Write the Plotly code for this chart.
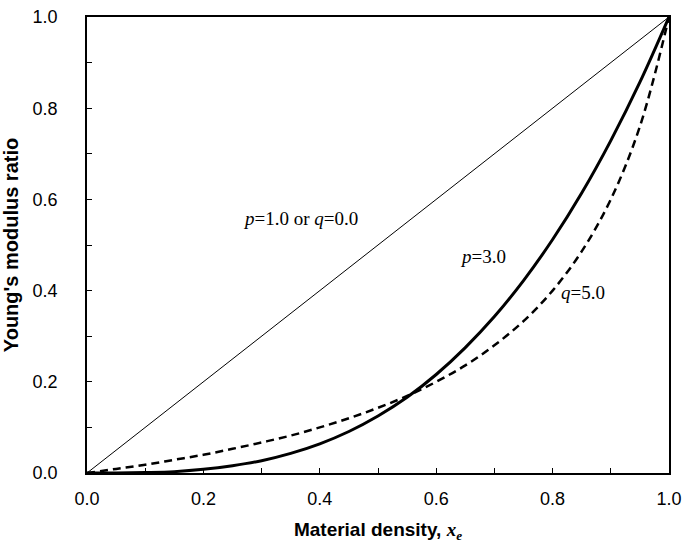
import plotly.graph_objects as go

# density values read along the x axis
density = [0.0, 0.05, 0.1, 0.15, 0.2, 0.25, 0.3, 0.35, 0.4, 0.45, 0.5,
           0.55, 0.6, 0.65, 0.7, 0.75, 0.8, 0.85, 0.9, 0.95, 1.0]

# p=1.0 or q=0.0 (straight line)
linear_ratio = [0.0, 0.05, 0.1, 0.15, 0.2, 0.25, 0.3, 0.35, 0.4, 0.45, 0.5,
                0.55, 0.6, 0.65, 0.7, 0.75, 0.8, 0.85, 0.9, 0.95, 1.0]

# p=3.0 (solid thick)
simp_ratio = [0.0, 0.0, 0.001, 0.003, 0.008, 0.016, 0.027, 0.043, 0.064, 0.091, 0.125,
              0.166, 0.216, 0.275, 0.343, 0.422, 0.512, 0.614, 0.729, 0.857, 1.0]

# q=5.0 (dashed)
ramp_ratio = [0.0, 0.009, 0.018, 0.029, 0.04, 0.053, 0.067, 0.082, 0.1, 0.12, 0.143,
              0.169, 0.2, 0.236, 0.28, 0.333, 0.4, 0.486, 0.6, 0.76, 1.0]

tick_vals = [0.0, 0.2, 0.4, 0.6, 0.8, 1.0]
tick_text = ["0.0", "0.2", "0.4", "0.6", "0.8", "1.0"]

fig = go.Figure()

fig.add_trace(go.Scatter(x=density, y=linear_ratio, mode="lines",
                         line=dict(color="black", width=1), name="p=1.0 or q=0.0"))
fig.add_trace(go.Scatter(x=density, y=simp_ratio, mode="lines",
                         line=dict(color="black", width=3, shape="spline"), name="p=3.0"))
fig.add_trace(go.Scatter(x=density, y=ramp_ratio, mode="lines",
                         line=dict(color="black", width=2.5, shape="spline", dash="8px,5px"),
                         name="q=5.0"))

label_font = dict(family="Liberation Serif", size=19, color="black")
fig.add_annotation(x=0.366, y=0.559, text="<i>p</i>=1.0 or <i>q</i>=0.0",
                   showarrow=False, font=label_font)
fig.add_annotation(x=0.68, y=0.474, text="<i>p</i>=3.0",
                   showarrow=False, font=label_font)
fig.add_annotation(x=0.852, y=0.395, text="<i>q</i>=5.0",
                   showarrow=False, font=label_font)

axis_common = dict(
    range=[0, 1],
    tickvals=tick_vals,
    ticktext=tick_text,
    ticks="inside",
    ticklen=5,
    tickwidth=1,
    tickcolor="black",
    minor=dict(dtick=0.1, ticks="inside", ticklen=5, tickwidth=1, tickcolor="black"),
    showline=True,
    linecolor="black",
    linewidth=1.5,
    mirror=True,
    showgrid=False,
    zeroline=False,
    automargin=False,
    ticklabeloverflow="allow",
    tickfont=dict(family="Liberation Sans", size=18, color="black"),
)

fig.update_xaxes(**axis_common, ticklabelstandoff=9,
                 title=dict(text="<b>Material density, <span style='font-family:Liberation Serif'><i>x<sub>e</sub></i></span></b>",
                            font=dict(family="Liberation Sans", size=19, color="black"),
                            standoff=14))
fig.update_yaxes(**axis_common, ticklabelstandoff=24,
                 title=dict(text="<b>Young's modulus ratio</b>",
                            font=dict(family="Liberation Sans", size=20, color="black"),
                            standoff=11))

fig.update_layout(
    width=687,
    height=548,
    margin=dict(l=87, r=18, t=17, b=75),
    plot_bgcolor="white",
    paper_bgcolor="white",
    showlegend=False,
)

# drop the default page margin so the figure sits at the window's corner
fig.write_html("out.html",
               config={"displayModeBar": False},
               post_script="document.body.style.margin='0';document.body.style.overflow='hidden';")
